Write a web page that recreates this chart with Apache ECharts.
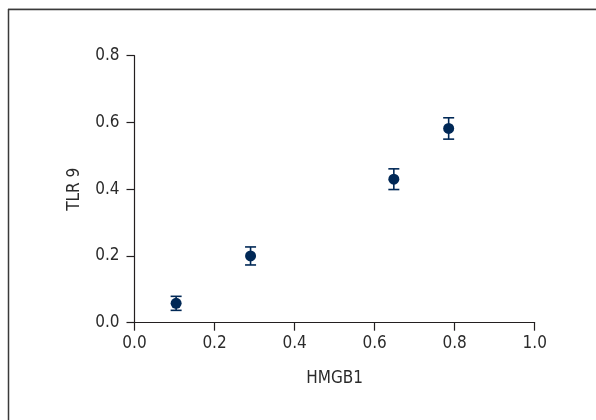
<!DOCTYPE html>
<html>
<head>
<meta charset="utf-8">
<script src="https://cdn.jsdelivr.net/npm/echarts@6/dist/echarts.min.js"></script>
<style>html,body{margin:0;padding:0;background:#fff}#c{width:596px;height:420px}</style>
</head>
<body>
<div id="c"></div>
<script>
const hmgb1 = [0.104, 0.29, 0.648, 0.785];
const tlr9 = [0.058, 0.200, 0.430, 0.582];
const tlr9Err = [0.021, 0.027, 0.031, 0.032];
const xTicks = [0, 0.2, 0.4, 0.6, 0.8, 1.0];
const yTicks = [0, 0.2, 0.4, 0.6, 0.8];

const FONT = "'DejaVu Sans Condensed', 'Liberation Sans Narrow', sans-serif";
const TXT = '#2b2b2b';
const AX = '#231f20';
const MK = '#002856';

const chart = echarts.init(document.getElementById('c'), null, {renderer: 'canvas'});
const errData = hmgb1.map((x, i) => [x, tlr9[i] - tlr9Err[i], tlr9[i] + tlr9Err[i]]);
const ptData = hmgb1.map((x, i) => [x, tlr9[i]]);

chart.setOption({
  animation: false,
  backgroundColor: '#fff',
  graphic: [
    {type: 'line', shape: {x1: 8, y1: 8.5, x2: 596, y2: 8.5}, style: {stroke: '#cfcfcf', lineWidth: 1}},
    {type: 'line', shape: {x1: 8, y1: 9.5, x2: 596, y2: 9.5}, style: {stroke: '#3a3a3a', lineWidth: 1.5}},
    {type: 'line', shape: {x1: 8.5, y1: 9, x2: 8.5, y2: 420}, style: {stroke: '#3a3a3a', lineWidth: 1.5}}
  ],
  grid: {left: 134.5, right: 61.3, top: 55.7, bottom: 97.3, containLabel: false},
  xAxis: {
    type: 'value', min: 0, max: 1.0, interval: 0.2,
    name: 'HMGB1', nameLocation: 'middle', nameGap: 47,
    nameTextStyle: {fontFamily: FONT, fontSize: 17, color: TXT},
    axisLine: {show: true, onZero: false, lineStyle: {color: AX, width: 1.2}},
    axisTick: {show: true, length: 8, inside: false, lineStyle: {color: AX, width: 1.2}},
    axisLabel: {fontFamily: FONT, fontSize: 17, color: TXT, margin: 12,
      formatter: v => v.toFixed(1)},
    splitLine: {show: false}
  },
  yAxis: {
    type: 'value', min: 0, max: 0.8, interval: 0.2,
    name: 'TLR 9', nameLocation: 'middle', nameGap: 51, nameRotate: 90,
    nameTextStyle: {fontFamily: FONT, fontSize: 17, color: TXT},
    axisLine: {show: true, onZero: false, lineStyle: {color: AX, width: 1.2}},
    axisTick: {show: true, length: 8, inside: false, lineStyle: {color: AX, width: 1.2}},
    axisLabel: {fontFamily: FONT, fontSize: 17, color: TXT, margin: 15,
      formatter: v => v.toFixed(1)},
    splitLine: {show: false}
  },
  series: [
    {
      type: 'custom',
      data: errData,
      renderItem: function (params, api) {
        const x = api.value(0);
        const lo = api.coord([x, api.value(1)]);
        const hi = api.coord([x, api.value(2)]);
        const hw = 5.5;
        const st = {stroke: MK, lineWidth: 1.6, fill: null};
        return {type: 'group', children: [
          {type: 'line', shape: {x1: lo[0], y1: lo[1], x2: hi[0], y2: hi[1]}, style: st},
          {type: 'line', shape: {x1: lo[0] - hw, y1: lo[1], x2: lo[0] + hw, y2: lo[1]}, style: st},
          {type: 'line', shape: {x1: hi[0] - hw, y1: hi[1], x2: hi[0] + hw, y2: hi[1]}, style: st}
        ]};
      },
      z: 2
    },
    {
      type: 'scatter',
      data: ptData,
      symbol: 'circle',
      symbolSize: 11,
      itemStyle: {color: MK, opacity: 1},
      z: 3
    }
  ]
});
</script>
</body>
</html>
